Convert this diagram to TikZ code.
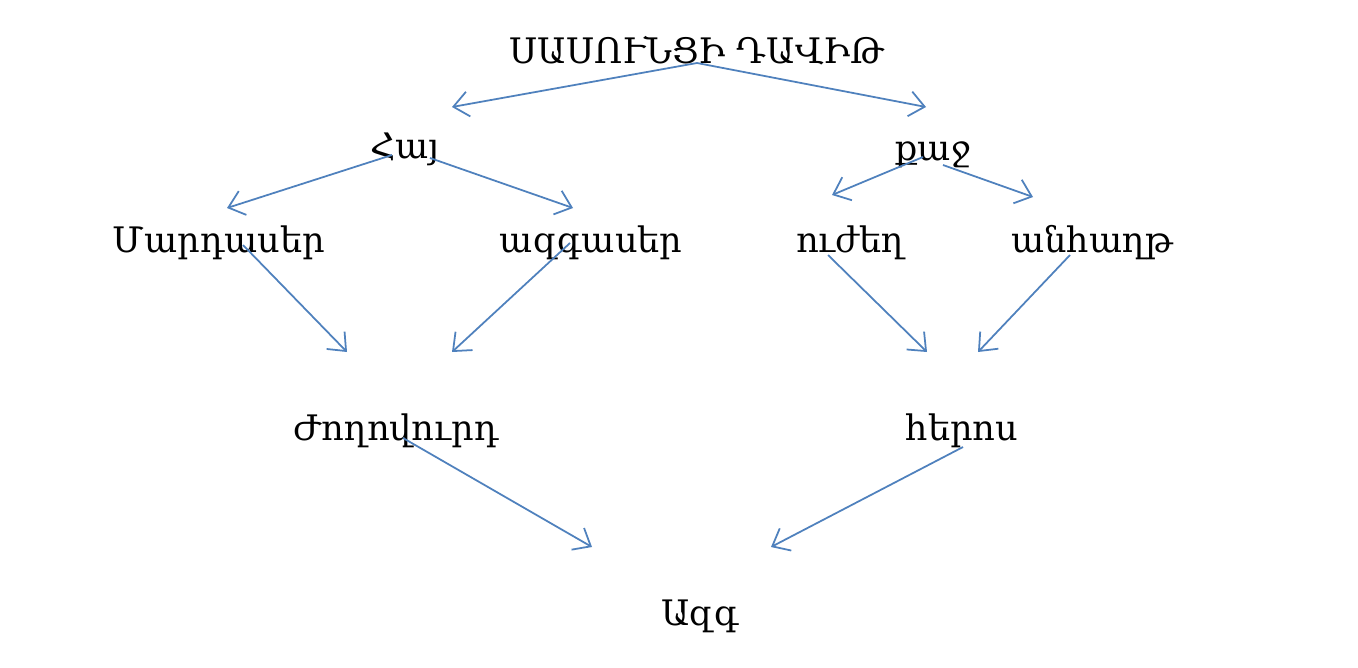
\documentclass[tikz,border=0pt]{standalone}
\usepackage{fontspec}
\setmainfont{DejaVu Serif}
\usetikzlibrary{arrows.meta}
\definecolor{arrowblue}{RGB}{79,129,189}

\begin{document}
\begin{tikzpicture}[
    x=0.02cm, y=-0.02cm,
    word/.style={anchor=base, inner sep=0pt, text=black, font=\fontsize{20}{24}\selectfont},
    arrow/.style={-{Straight Barb[length=3mm, width=5mm]}, draw=arrowblue, line width=1pt}
]
\useasboundingbox[fill=white] (0,0) rectangle (1358,667);

% Title
\node[word] (david) at (697,63) {ՍԱՍՈՒՆՑԻ ԴԱՎԻԹ};

% First level
\node[word] (hay) at (405,158) {Հայ};
\node[word] (kaj) at (933,160) {քաջ};

% Second level
\node[word] (mardaser) at (219,252) {Մարդասեր};
\node[word] (azgaser) at (591,252) {ազգասեր};
\node[word] (uzhegh) at (850,252) {ուժեղ};
\node[word] (anhaght) at (1092,252) {անհաղթ};

% Third level
\node[word] (zhoghovurd) at (396,440) {Ժողովուրդ};
\node[word] (heros) at (962,440) {հերոս};

% Bottom
\node[word] (azg) at (700,625) {Ազգ};

% Arrow ends
\coordinate (hayT) at (452,107);
\coordinate (kajT) at (926,107);
\coordinate (mardaserT) at (227,208);
\coordinate (azgaserT) at (573,208);
\coordinate (uzheghT) at (832,195);
\coordinate (anhaghtT) at (1033,197);
\coordinate (zhoghovurdL) at (347,352);
\coordinate (zhoghovurdR) at (452,352);
\coordinate (herosL) at (927,352);
\coordinate (herosR) at (978,352);
\coordinate (azgL) at (592,547);
\coordinate (azgR) at (771,547);

% Arrows
\draw[arrow] (david.base) -- (hayT);
\draw[arrow] (david.base) -- (kajT);
\draw[arrow] ([shift={(-13,-3)}]hay.base) -- (mardaserT);
\draw[arrow] ([shift={(25,0)}]hay.base) -- (azgaserT);
\draw[arrow] ([shift={(-10,-3)}]kaj.base) -- (uzheghT);
\draw[arrow] ([shift={(10,5)}]kaj.base) -- (anhaghtT);
\draw[arrow] ([shift={(24,-7)}]mardaser.base) -- (zhoghovurdL);
\draw[arrow] ([shift={(-21,-9)}]azgaser.base) -- (zhoghovurdR);
\draw[arrow] ([shift={(-22,3)}]uzhegh.base) -- (herosL);
\draw[arrow] ([shift={(-22,3)}]anhaght.base) -- (herosR);
\draw[arrow] ([shift={(7,-2)}]zhoghovurd.base) -- (azgL);
\draw[arrow] ([shift={(1,7)}]heros.base) -- (azgR);

\end{tikzpicture}
\end{document}
